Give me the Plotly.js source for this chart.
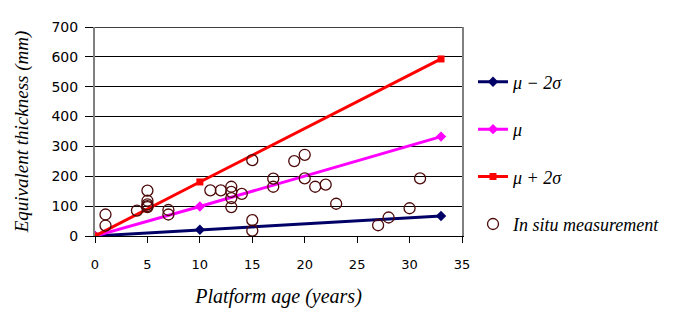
<!DOCTYPE html>
<html>
<head>
<meta charset="utf-8">
<script src="https://cdn.plot.ly/plotly-3.0.1.min.js"></script>
<style>html,body{margin:0;padding:0;background:#fff;}#chart{width:686px;height:313px;}</style>
</head>
<body>
<div id="chart"></div>
<script>
// Model lines
var modelAges = [0, 10, 33];
var muMinus2Sigma = [0, 21, 67];
var muValues = [0, 99, 333];
var muPlus2Sigma = [0, 181, 593];

// In situ measurements
var siteAges = [1, 1, 4, 5, 5, 5, 5, 5, 7, 7, 11, 12, 13, 13, 13, 13, 14, 15, 15, 15, 17, 17, 19, 20, 20, 21, 22, 23, 27, 28, 30, 31];
var siteThickness = [72, 35, 85, 152, 118, 106, 97, 100, 87, 72, 153, 153, 165, 148, 127, 97, 141, 254, 53, 18, 192, 165, 251, 272, 193, 165, 172, 108, 36, 62, 93, 193];

var legendNames = ['\u03bc \u2212 2\u03c3', '\u03bc', '\u03bc + 2\u03c3', 'In situ measurement'];
var xTicks = [0, 5, 10, 15, 20, 25, 30, 35];
var yTicks = [0, 100, 200, 300, 400, 500, 600, 700];
var yMax = 700;

var serif = 'Liberation Serif, Times New Roman, serif';
var traces = [
  {x: modelAges, y: muMinus2Sigma, name: legendNames[0], mode: 'lines+markers', legendgroup: 'a',
   line: {color: '#000066', width: 3}, marker: {symbol: 'diamond', size: 8, color: '#000066'}},
  {x: modelAges, y: muValues, name: legendNames[1], mode: 'lines+markers', legendgroup: 'b',
   line: {color: '#ff00ff', width: 3}, marker: {symbol: 'diamond', size: 8, color: '#ff00ff'}},
  {x: modelAges, y: muPlus2Sigma, name: legendNames[2], mode: 'lines+markers', legendgroup: 'c',
   line: {color: '#ff0000', width: 3}, marker: {symbol: 'square', size: 7, color: '#ff0000'}},
  {x: siteAges, y: siteThickness, name: legendNames[3], mode: 'markers', legendgroup: 'd',
   marker: {symbol: 'circle-open', size: 11, color: '#4d0a0a', line: {width: 1.3, color: '#4d0a0a'}}}
];

var layout = {
  width: 686, height: 313,
  margin: {l: 95, r: 224, t: 27, b: 77},
  paper_bgcolor: '#fff', plot_bgcolor: '#fff',
  showlegend: true,
  legend: {x: 1.03, y: 0.825, xanchor: 'left', yanchor: 'top', tracegroupgap: 21,
           font: {family: serif, size: 18, color: '#000', style: 'italic'}, itemwidth: 30, bgcolor: 'rgba(0,0,0,0)'},
  xaxis: {range: [0, 35], tickvals: xTicks, ticks: 'outside', ticklen: 6, tickcolor: '#000', ticklabelstandoff: 10,
          showline: true, linecolor: '#000', linewidth: 1, showgrid: false, zeroline: false,
          tickfont: {family: 'DejaVu Sans, sans-serif', size: 13, color: '#000'},
          title: {text: 'Platform age (years)', font: {family: serif, size: 20, color: '#000', style: 'italic'}, standoff: 18}},
  yaxis: {range: [0, yMax], tickvals: yTicks, ticks: 'outside', ticklen: 8, tickcolor: '#000', ticklabelstandoff: 4,
          showline: true, linecolor: '#808080', linewidth: 2, mirror: true,
          showgrid: true, gridcolor: '#000', gridwidth: 1, zeroline: false,
          tickfont: {family: 'DejaVu Sans, sans-serif', size: 14, color: '#000'},
          title: {text: 'Equivalent thickness (mm)', font: {family: serif, size: 19, color: '#000', style: 'italic'}, standoff: 18}},
  shapes: [{type: 'line', xref: 'paper', yref: 'y', x0: 0, x1: 1, y0: yMax, y1: yMax, line: {color: '#000', width: 1.5}, layer: 'above'}]
};

Plotly.newPlot('chart', traces, layout, {staticPlot: true, displayModeBar: false});
</script>
</body>
</html>
